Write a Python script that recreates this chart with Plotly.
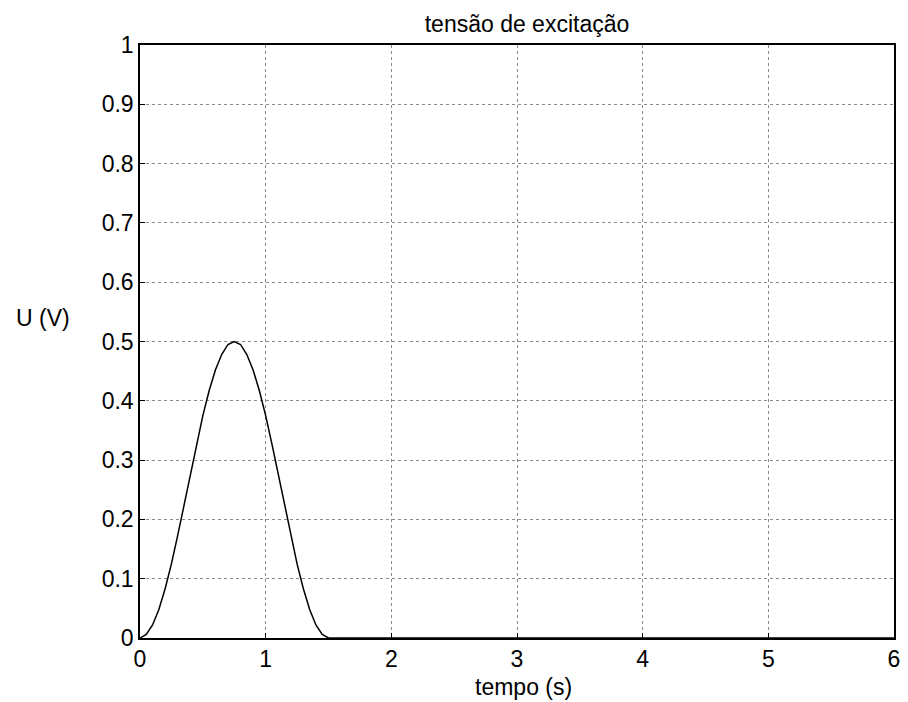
import plotly.graph_objects as go

# time (s) and excitation voltage U (V)
tempo = [0.0, 0.05, 0.1, 0.15, 0.2, 0.25, 0.3, 0.35, 0.4, 0.45, 0.5, 0.55, 0.6, 0.65, 0.7, 0.75,
         0.8, 0.85, 0.9, 0.95, 1.0, 1.05, 1.1, 1.15, 1.2, 1.25, 1.3, 1.35, 1.4, 1.45, 1.5,
         2.0, 3.0, 4.0, 5.0, 6.0]
tensao = [0.0, 0.006, 0.022, 0.048, 0.083, 0.125, 0.173, 0.224, 0.276, 0.327, 0.375, 0.417, 0.452, 0.478, 0.495, 0.5,
          0.495, 0.478, 0.452, 0.417, 0.375, 0.327, 0.276, 0.224, 0.173, 0.125, 0.083, 0.048, 0.022, 0.006, 0.0,
          0.0, 0.0, 0.0, 0.0, 0.0]

x_ticks = [0, 1, 2, 3, 4, 5, 6]
y_ticks = [0, 0.1, 0.2, 0.3, 0.4, 0.5, 0.6, 0.7, 0.8, 0.9, 1]
y_ticklabels = ["0", "0.1", "0.2", "0.3", "0.4", "0.5", "0.6", "0.7", "0.8", "0.9", "1"]

FONT = "Liberation Sans, Arial, sans-serif"
FS = 23

fig = go.Figure()
fig.add_trace(go.Scatter(x=tempo, y=tensao, mode="lines",
                         line=dict(color="black", width=1.5), showlegend=False))

axis_common = dict(showline=True, linecolor="black", linewidth=1.5, mirror=True,
                   ticks="inside", ticklen=5, tickcolor="black", tickwidth=1,
                   showgrid=True, gridcolor="#8a8a8a", gridwidth=1, griddash="dot",
                   zeroline=False, tickfont=dict(family=FONT, size=FS, color="black"))

fig.update_xaxes(range=[0, 6], tickvals=x_ticks, ticktext=[str(v) for v in x_ticks], **axis_common)
fig.update_yaxes(range=[0, 1], tickvals=y_ticks, ticktext=y_ticklabels, **axis_common)

fig.update_layout(
    width=908, height=702,
    margin=dict(l=140, r=8, t=45, b=64),
    paper_bgcolor="white", plot_bgcolor="white",
    title=dict(text="tensão de excitação", x=527 / 908, xanchor="center",
               y=1 - 24 / 702, yanchor="middle",
               font=dict(family=FONT, size=FS, color="black")),
    annotations=[
        dict(text="U (V)", xref="paper", yref="paper", x=(42 - 140) / 760, y=(638 - 318) / 593,
             xanchor="center", yanchor="middle", showarrow=False,
             font=dict(family=FONT, size=FS, color="black")),
        dict(text="tempo (s)", xref="paper", yref="paper", x=(527 - 140) / 760, y=(638 - 687) / 593,
             xanchor="center", yanchor="middle", showarrow=False,
             font=dict(family=FONT, size=FS, color="black")),
    ],
)

fig.write_html("out.html")
